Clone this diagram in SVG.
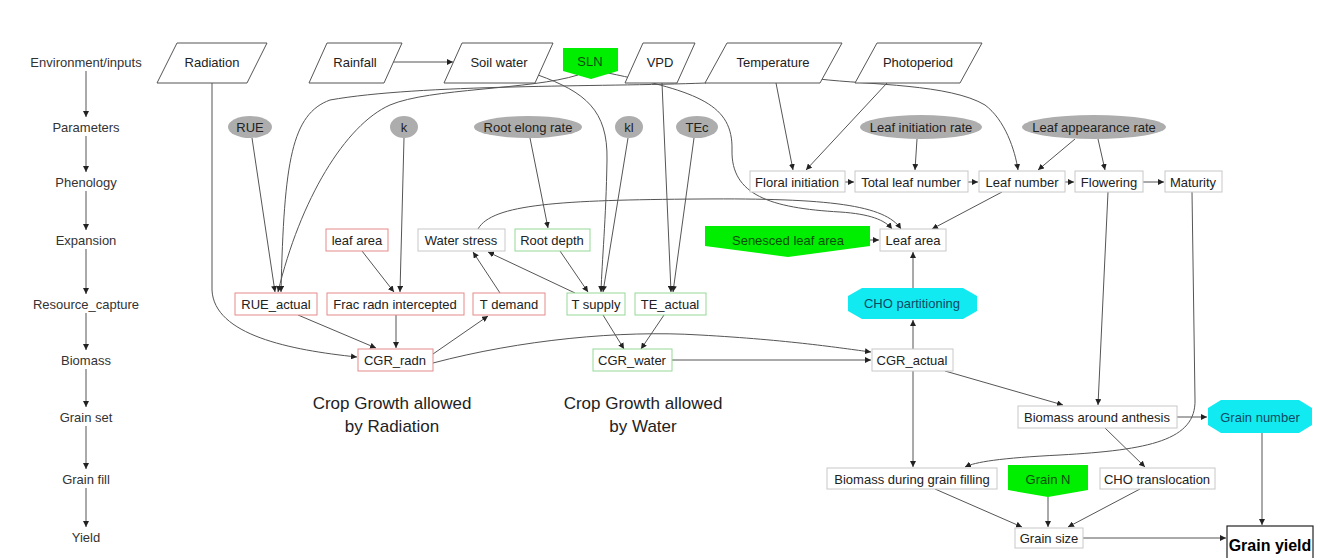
<svg xmlns="http://www.w3.org/2000/svg" width="1322" height="558" viewBox="0 0 1322 558">
<style>
text{font-family:"Liberation Sans",Arial,sans-serif;font-size:13px;fill:#222;text-anchor:middle}
.lab{fill:#333}
.par{fill:#fff;stroke:#555;stroke-width:1}
.ell{fill:#adadad;stroke:none}
.gb{fill:#fff;stroke:#c8c8c8;stroke-width:1}
.rb{fill:#fff;stroke:#e58a8a;stroke-width:1}
.vb{fill:#fff;stroke:#95d995;stroke-width:1}
.grn{fill:#00ee00;stroke:none}
.cy{fill:#12eaf2;stroke:none}
.gt{fill:#0b4d0b}
.ct{fill:#0d4a63}
.e{fill:none;stroke:#555;stroke-width:1;marker-end:url(#ah)}
.ann{font-family:"Liberation Sans",Arial,sans-serif;font-size:17px;fill:#222}
</style>
<defs>
<marker id="ah" markerUnits="userSpaceOnUse" markerWidth="6" markerHeight="6" refX="6" refY="3" orient="auto">
<path d="M0,0 L6,3 L0,6 z" fill="#222"/>
</marker>
</defs>
<rect width="1322" height="558" fill="#fff"/>

<g id="levels">
<text class="lab" x="86" y="67">Environment/inputs</text>
<text class="lab" x="86" y="132">Parameters</text>
<text class="lab" x="86" y="187">Phenology</text>
<text class="lab" x="86" y="245">Expansion</text>
<text class="lab" x="86" y="309">Resource_capture</text>
<text class="lab" x="86" y="365">Biomass</text>
<text class="lab" x="86" y="422">Grain set</text>
<text class="lab" x="86" y="484">Grain fill</text>
<text class="lab" x="86" y="542">Yield</text>
</g>

<g id="connectors">
<path class="e" d="M86,71 L86,117"/>
<path class="e" d="M86,136 L86,172"/>
<path class="e" d="M86,191 L86,230"/>
<path class="e" d="M86,249 L86,294"/>
<path class="e" d="M86,313 L86,350"/>
<path class="e" d="M86,369 L86,407"/>
<path class="e" d="M86,426 L86,469"/>
<path class="e" d="M86,488 L86,527"/>

<path class="e" d="M388,62 L453,62"/>
<path class="e" d="M212,83 L212,290 C214,335 290,350 357,357"/>
<path class="e" d="M252,138 L275,292"/>
<path class="e" d="M706,83 C600,87 420,84 330,100 C292,114 284,160 281,292"/>
<path class="e" d="M578,75 C530,90 430,88 390,105 C345,125 300,200 278,292"/>
<path class="e" d="M404,138 L400,292"/>
<path class="e" d="M362,251 L394,292"/>
<path class="e" d="M530,138 L548,228"/>
<path class="e" d="M538,75 C585,92 608,110 607,160 C606,220 602,260 601,292"/>
<path class="e" d="M628,138 L603,292"/>
<path class="e" d="M560,251 L588,292"/>
<path class="e" d="M575,293 L488,252"/>
<path class="e" d="M500,293 L473,252"/>
<path class="e" d="M478,229 C492,204 560,200 700,199 C830,198 885,205 901,229"/>
<path class="e" d="M608,73 C700,92 733,105 732,150 C731,195 770,208 840,212 C870,214 885,220 892,229"/>
<path class="e" d="M662,83 L671,292"/>
<path class="e" d="M694,138 L673,292"/>
<path class="e" d="M298,315 L376,348"/>
<path class="e" d="M396,315 L396,348"/>
<path class="e" d="M433,354 L488,316"/>
<path class="e" d="M433,363 C520,340 620,330 700,335 C790,340 840,348 871,352"/>
<path class="e" d="M603,315 L624,349"/>
<path class="e" d="M664,315 L641,349"/>
<path class="e" d="M672,360 L871,360"/>
<path class="e" d="M913,349 L913,320"/>
<path class="e" d="M913,288 L913,252"/>
<path class="e" d="M870,240 L879,240"/>
<path class="e" d="M1002,192 L932,229"/>
<path class="e" d="M776,83 L793,170"/>
<path class="e" d="M887,83 L806,170"/>
<path class="e" d="M819,79 C870,85 950,84 985,105 C1005,120 1015,150 1018,170"/>
<path class="e" d="M917,139 L915,170"/>
<path class="e" d="M1075,139 L1038,170"/>
<path class="e" d="M1098,139 L1105,170"/>
<path class="e" d="M845,182 L854,182"/>
<path class="e" d="M968,182 L978,182"/>
<path class="e" d="M1065,182 L1074,182"/>
<path class="e" d="M1143,182 L1164,182"/>
<path class="e" d="M1108,192 L1098,405"/>
<path class="e" d="M945,371 L1063,405"/>
<path class="e" d="M913,371 L913,467"/>
<path class="e" d="M1192,192 L1195,400 C1196,440 1150,450 1060,455 C1000,458 975,462 965,467"/>
<path class="e" d="M1177,417 L1207,417"/>
<path class="e" d="M1105,428 L1145,467"/>
<path class="e" d="M1262,433 L1262,525"/>
<path class="e" d="M935,489 L1022,527"/>
<path class="e" d="M1048,497 L1048,527"/>
<path class="e" d="M1140,489 L1068,527"/>
<path class="e" d="M1083,538 L1226,538"/>
</g>

<g id="n-radiation"><polygon class="par" points="177,43 267,43 247,83 157,83"/><text x="212" y="67">Radiation</text></g>
<g id="n-rainfall"><polygon class="par" points="327,43 402,43 384,83 309,83"/><text x="355" y="67">Rainfall</text></g>
<g id="n-soilwater"><polygon class="par" points="462,43 553,43 535,83 444,83"/><text x="499" y="67">Soil water</text></g>
<g id="n-sln"><polygon class="grn" points="563,48 618,48 618,71 591,79 563,71"/><text class="gt" x="590" y="66">SLN</text></g>
<g id="n-vpd"><polygon class="par" points="643,43 695,43 677,83 625,83"/><text x="660" y="67">VPD</text></g>
<g id="n-temperature"><polygon class="par" points="727,43 842,43 820,83 705,83"/><text x="773" y="67">Temperature</text></g>
<g id="n-photoperiod"><polygon class="par" points="877,43 982,43 960,83 855,83"/><text x="918" y="67">Photoperiod</text></g>

<g id="n-rue"><ellipse class="ell" cx="250" cy="127" rx="22" ry="11"/><text x="250" y="132">RUE</text></g>
<g id="n-k"><ellipse class="ell" cx="404" cy="127" rx="14" ry="11"/><text x="404" y="132">k</text></g>
<g id="n-rootelong"><ellipse class="ell" cx="528" cy="127" rx="54" ry="11"/><text x="528" y="132">Root elong rate</text></g>
<g id="n-kl"><ellipse class="ell" cx="629" cy="127" rx="14" ry="11"/><text x="629" y="132">kl</text></g>
<g id="n-tec"><ellipse class="ell" cx="697" cy="127" rx="21" ry="11"/><text x="697" y="132">TEc</text></g>
<g id="n-leafinit"><ellipse class="ell" cx="921" cy="127" rx="61" ry="12"/><text x="921" y="132">Leaf initiation rate</text></g>
<g id="n-leafapp"><ellipse class="ell" cx="1094" cy="127" rx="72" ry="12"/><text x="1094" y="132">Leaf appearance rate</text></g>

<g id="n-floral"><rect class="gb" x="750" y="171" width="95" height="21"/><text x="797" y="187">Floral initiation</text></g>
<g id="n-totalleaf"><rect class="gb" x="855" y="171" width="113" height="21"/><text x="911" y="187">Total leaf number</text></g>
<g id="n-leafnumber"><rect class="gb" x="979" y="171" width="86" height="21"/><text x="1022" y="187">Leaf number</text></g>
<g id="n-flowering"><rect class="gb" x="1075" y="171" width="68" height="21"/><text x="1109" y="187">Flowering</text></g>
<g id="n-maturity"><rect class="gb" x="1165" y="171" width="57" height="21"/><text x="1193" y="187">Maturity</text></g>

<g id="n-leafarea-r"><rect class="rb" x="326" y="229" width="62" height="22"/><text x="357" y="245">leaf area</text></g>
<g id="n-waterstress"><rect class="gb" x="418" y="229" width="87" height="22"/><text x="461" y="245">Water stress</text></g>
<g id="n-rootdepth"><rect class="vb" x="515" y="229" width="75" height="22"/><text x="552" y="245">Root depth</text></g>
<g id="n-senesced"><polygon class="grn" points="705,226 870,226 870,246 788,257 705,246"/><text class="gt" x="788" y="245">Senesced leaf area</text></g>
<g id="n-leafarea"><rect class="gb" x="880" y="229" width="66" height="22"/><text x="913" y="245">Leaf area</text></g>

<g id="n-rueactual"><rect class="rb" x="235" y="293" width="82" height="22"/><text x="276" y="309">RUE_actual</text></g>
<g id="n-frac"><rect class="rb" x="327" y="293" width="137" height="22"/><text x="395" y="309">Frac radn intercepted</text></g>
<g id="n-tdemand"><rect class="rb" x="473" y="293" width="72" height="22"/><text x="509" y="309">T demand</text></g>
<g id="n-tsupply"><rect class="vb" x="567" y="293" width="58" height="22"/><text x="596" y="309">T supply</text></g>
<g id="n-teactual"><rect class="vb" x="635" y="293" width="71" height="22"/><text x="670" y="309">TE_actual</text></g>
<g id="n-chopart"><polygon class="cy" points="862,288 963,288 977,296 977,311 963,319 862,319 848,311 848,296"/><text class="ct" x="912" y="308">CHO partitioning</text></g>

<g id="n-cgrradn"><rect class="rb" x="358" y="349" width="75" height="22"/><text x="395" y="365">CGR_radn</text></g>
<g id="n-cgrwater"><rect class="vb" x="593" y="349" width="79" height="22"/><text x="632" y="365">CGR_water</text></g>
<g id="n-cgractual"><rect class="gb" x="872" y="349" width="81" height="22"/><text x="912" y="365">CGR_actual</text></g>

<g id="n-bioanth"><rect class="gb" x="1018" y="406" width="159" height="22"/><text x="1097" y="422">Biomass around anthesis</text></g>
<g id="n-grainnumber"><polygon class="cy" points="1221,400 1299,400 1312,408 1312,425 1299,433 1221,433 1208,425 1208,408"/><text class="ct" x="1260" y="422">Grain number</text></g>

<g id="n-biofill"><rect class="gb" x="827" y="468" width="170" height="21"/><text x="912" y="484">Biomass during grain filling</text></g>
<g id="n-grainn"><polygon class="grn" points="1008,465 1088,465 1088,490 1048,497 1008,490"/><text class="gt" x="1048" y="484">Grain N</text></g>
<g id="n-chotrans"><rect class="gb" x="1100" y="468" width="115" height="21"/><text x="1157" y="484">CHO translocation</text></g>

<g id="n-grainsize"><rect class="gb" x="1015" y="528" width="68" height="20"/><text x="1049" y="543">Grain size</text></g>
<g id="n-grainyield"><rect x="1227" y="526" width="86" height="40" fill="#fff" stroke="#222" stroke-width="1.2"/><text x="1270" y="551" style="font-size:16px;font-weight:bold;fill:#000">Grain yield</text></g>

<g id="annotations">
<text class="ann" x="392" y="409">Crop Growth allowed</text>
<text class="ann" x="392" y="432">by Radiation</text>
<text class="ann" x="643" y="409">Crop Growth allowed</text>
<text class="ann" x="643" y="432">by Water</text>
</g>
</svg>
